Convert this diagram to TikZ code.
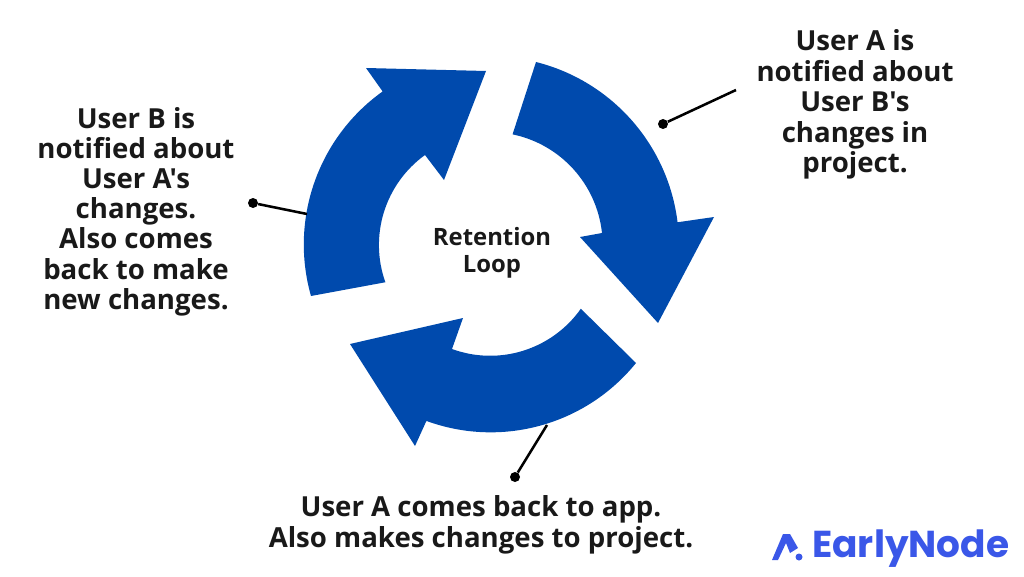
\documentclass[tikz,border=0pt]{standalone}
\usepackage{fontspec}
\setmainfont{Open Sans}[Ligatures=TeXOff]
\newfontfamily\logofont{Poppins}
\definecolor{loopblue}{HTML}{004AAD}
\definecolor{logoblue}{HTML}{3A57E8}
\tikzset{
  label/.style={align=center,inner sep=0pt,font=\fontsize{20.7}{22.9}\selectfont\bfseries,text=black!90},
  leftlabel/.style={align=center,inner sep=0pt,font=\fontsize{20.7}{22.65}\selectfont\bfseries,text=black!90},
  centerlabel/.style={align=center,inner sep=0pt,font=\fontsize{17.9}{20.2}\selectfont\bfseries,text=black!90},
  pin/.style={circle,fill=black,inner sep=0pt,minimum size=7.5pt},
  pinline/.style={draw=black,line width=1.9pt}
}
\begin{document}
\begin{tikzpicture}[x=0.75pt,y=0.75pt]
\useasboundingbox (0,0) rectangle (1024,576);
\fill[loopblue] (536,514) arc[start angle=75.9,end angle=7,radius=189] -- (714,359) -- (658,253) -- (580,339) -- (602,343) arc[start angle=6.1,end angle=78.3,radius=113] -- cycle;
\fill[loopblue] (311,280) arc[start angle=195.9,end angle=125.5,radius=188] -- (366,508) -- (486,505) -- (444,396) -- (425,421) arc[start angle=125.8,end angle=199.6,radius=111] -- cycle;
\fill[loopblue] (636,213) arc[start angle=-39,end angle=-110.1,radius=187] -- (415,130) -- (350,232) -- (463,258) -- (452,227) arc[start angle=-110.1,end angle=-35.2,radius=111] -- cycle;

\node[pin] (pinA) at (663,452) {};
\coordinate (endA) at (736,486);
\draw[pinline] (pinA) -- (endA);
\node[pin] (pinB) at (253,373) {};
\coordinate (endB) at (307,362);
\draw[pinline] (pinB) -- (endB);
\node[pin] (pinC) at (515,99) {};
\coordinate (endC) at (547,151);
\draw[pinline] (pinC) -- (endC);

\node[label] (notifyA) at (855,471.5) {User A is\\notified about\\User B's\\changes in\\project.};
\node[leftlabel] (notifyB) at (136,364.5) {User B is\\notified about\\User A's\\changes.\\Also comes\\back to make\\new changes.};
\node[label] (back) at (481,51) {User A comes back to app.\\Also makes changes to project.};
\node[centerlabel] (center) at (492,323.5) {Retention\\Loop};

\fill[logoblue] (772,16) -- (783,42) -- (790,42) -- (798,28) -- (790,23) -- (786,33) -- (778,16) -- cycle;
\fill[logoblue] (799,19) circle[radius=3.5];
\node[inner sep=0pt,anchor=west,text=logoblue,font=\logofont\fontsize{28.1}{32}\selectfont\bfseries] (logo) at (812,27) {EarlyNode};
\end{tikzpicture}
\end{document}
